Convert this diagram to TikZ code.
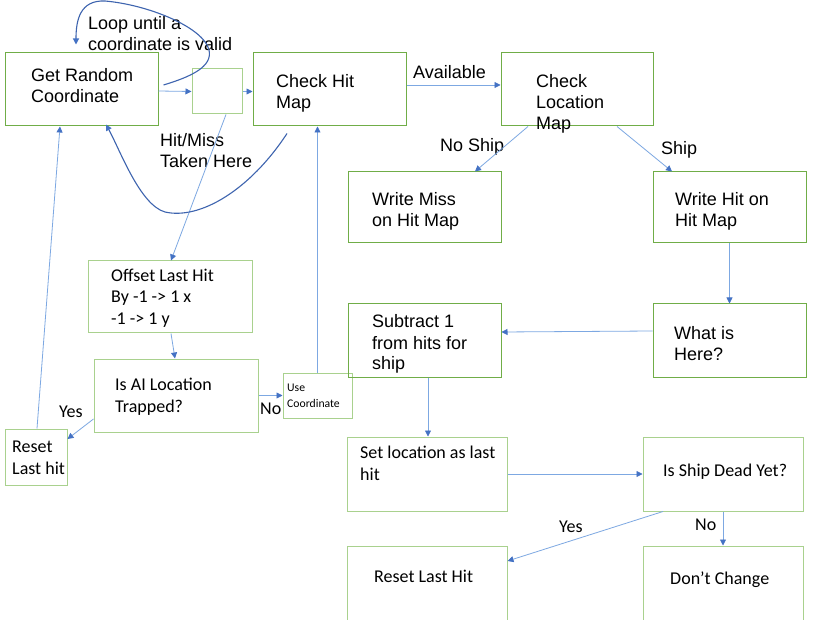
\documentclass[tikz,border=0pt]{standalone}
\usepackage{fontspec}
\setmainfont{Liberation Sans}
\newfontfamily\calfont{Carlito}
\usetikzlibrary{arrows.meta}
\definecolor{gdark}{RGB}{112,173,71}
\definecolor{glight}{RGB}{169,209,142}
\definecolor{aline}{RGB}{125,168,226}
\definecolor{atip}{RGB}{68,114,196}
\definecolor{curvec}{RGB}{62,100,175}
\tikzset{
  gbox/.style={draw=gdark,line width=1pt,inner sep=0,minimum width=#1},
  lbox/.style={draw=glight,line width=1pt,inner sep=0,minimum width=#1},
  ar/.style={draw=aline,line width=0.8pt,-{Triangle[width=6pt,length=6pt,color=atip]}},
  cv/.style={draw=curvec,line width=1.1pt,-{Triangle[width=6pt,length=6pt,color=atip]}},
  tx/.style={anchor=base west,inner sep=0,font=\fontsize{18}{21}\selectfont},
  tc/.style={anchor=base west,inner sep=0,font=\calfont\fontsize{18}{21}\selectfont},
  ts/.style={anchor=base west,inner sep=0,font=\calfont\fontsize{11.7}{14}\selectfont},
}
\begin{document}
\begin{tikzpicture}[x=1pt,y=-1pt]
\clip (0,0) rectangle (814,620);
\fill[white] (0,0) rectangle (814,620);
% boxes
\node[gbox=153,minimum height=73] (grc) at (81.5,89.5) {};
\node[lbox=50,minimum height=45] (sb) at (217,91.5) {};
\node[gbox=153,minimum height=73] (chm) at (329.5,89.5) {};
\node[gbox=152,minimum height=73] (clm) at (577,89.5) {};
\node[gbox=153,minimum height=71] (wm) at (424.5,207.5) {};
\node[gbox=153,minimum height=71] (wh) at (729.5,207.5) {};
\node[lbox=164,minimum height=72] (ofs) at (170,297) {};
\node[lbox=164,minimum height=73] (ai) at (176,395.5) {};
\node[lbox=69,minimum height=45] (uc) at (317.5,395.5) {};
\node[lbox=62,minimum height=56] (rlh) at (36,457) {};
\node[gbox=153,minimum height=73] (sub) at (424.5,340.5) {};
\node[gbox=153,minimum height=73] (wih) at (729.5,340.5) {};
\node[lbox=160,minimum height=74] (sl) at (427,474) {};
\node[lbox=160,minimum height=74] (sd) at (723,474) {};
\node[lbox=160,minimum height=80] (rl) at (427,586) {};
\node[lbox=160,minimum height=80] (dc) at (723,586) {};
% texts
\node[tx] (t1a) at (88,29.5) {Loop until a};
\node[tx] (t1b) at (88,50.5) {coordinate is valid};
\node[tx] (t2a) at (31,82) {Get Random};
\node[tx] (t2b) at (31,102.5) {Coordinate};
\node[tx] (t3a) at (276,88) {Check Hit};
\node[tx] (t3b) at (276,109) {Map};
\node[tx] (t4) at (413,79) {Available};
\node[tx] (t5a) at (536,88) {Check};
\node[tx] (t5b) at (536,109) {Location};
\node[tx] (t5c) at (536,130) {Map};
\node[tx] (t6) at (440,152) {No Ship};
\node[tx] (t7) at (661,155) {Ship};
\node[tx] (t8a) at (372,206) {Write Miss};
\node[tx] (t8b) at (372,227) {on Hit Map};
\node[tx] (t9a) at (675,206) {Write Hit on};
\node[tx] (t9b) at (675,227) {Hit Map};
\node[tx] (t10a) at (160,147) {Hit/Miss};
\node[tx] (t10b) at (160,168) {Taken Here};
\node[tc] (t11a) at (111,282) {Offset Last Hit};
\node[tc] (t11b) at (111,303) {By -1 -> 1 x};
\node[tc] (t11c) at (111,325) {-1 -> 1 y};
\node[tc] (t12a) at (115,390) {Is AI Location};
\node[tc] (t12b) at (115,412) {Trapped?};
\node[ts] (t13a) at (287,391) {Use};
\node[ts] (t13b) at (287,407) {Coordinate};
\node[tc] (t14) at (260,414) {No};
\node[tc] (t15) at (59,417) {Yes};
\node[tc] (t16a) at (12,452) {Reset};
\node[tc] (t16b) at (12,474) {Last hit};
\node[tx] (t17a) at (372,328) {Subtract 1};
\node[tx] (t17b) at (372,349) {from hits for};
\node[tx] (t17c) at (372,370) {ship};
\node[tx] (t18a) at (674,339) {What is};
\node[tx] (t18b) at (674,360) {Here?};
\node[tc] (t19a) at (360,458) {Set location as last};
\node[tc] (t19b) at (360,480) {hit};
\node[tc] (t20) at (663,476) {Is Ship Dead Yet?};
\node[tc] (t21) at (559,532) {Yes};
\node[tc] (t22) at (695,530) {No};
\node[tc] (t23) at (374,582) {Reset Last Hit};
\node[tc] (t24) at (670,584) {Don’t Change};
% connectors
\draw[ar] ([yshift=-1.5]grc.east) -- (sb.west);
\draw[ar] (sb.east) -- (sb.east -| chm.west);
\draw[ar] ([yshift=4.5]chm.east) -- ([yshift=4.5]clm.west);
\draw[ar] ([xshift=-49]clm.south) -- ([xshift=50.5]wm.north);
\draw[ar] ([xshift=40]clm.south) -- ([xshift=-57.5]wh.north);
\draw[ar] (wh.south) -- (wih.north);
\draw[ar] ([yshift=9.5]wih.west) -- ([yshift=8.5]sub.east);
\draw[ar] ([xshift=3.5]sub.south) -- ([xshift=1]sl.north);
\draw[ar] (sl.east) -- (sd.west);
\draw[ar] ([xshift=-60]sd.south) -- ([yshift=25]rl.east);
\draw[ar] (sd.south) -- (dc.north);
\draw[ar] ([xshift=9]sb.south) -- ([xshift=1]ofs.north);
\draw[ar] ([xshift=1]ofs.south) -- ([xshift=-1]ai.north);
\draw[ar] (ai.east) -- (uc.west);
\draw[ar] ([yshift=-23.5]ai.west) -- ([yshift=18]rlh.east);
\draw[ar] ([xshift=1]rlh.north) -- ([xshift=-21.5]grc.south);
\draw[ar] (uc.north) -- (uc.north |- chm.south);
% curves
\draw[cv] ([xshift=5,yshift=4.5]grc.east) .. controls (190,77) and (213,67) .. (209,50)
  .. controls (204,28) and (150,5) .. (105,1)
  .. controls (80,0) and (76,20) .. ([xshift=-5.5,yshift=8]grc.north);
\draw[cv] ([xshift=-42.5,yshift=-7]chm.south) .. controls (250,190) and (200,220) .. (165,212)
  .. controls (140,205) and (120,150) .. ([xshift=24.5,yshift=2]grc.south);
\end{tikzpicture}
\end{document}
